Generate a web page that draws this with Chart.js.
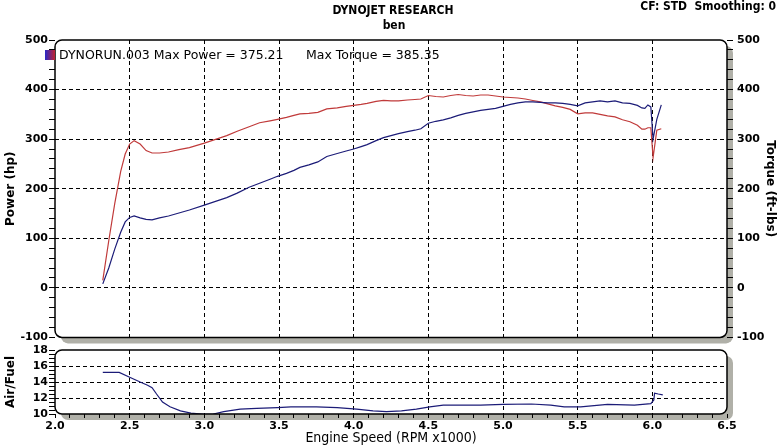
<!DOCTYPE html>
<html>
<head>
<meta charset="utf-8">
<script src="https://cdn.jsdelivr.net/npm/chart.js@4.4.0/dist/chart.umd.min.js"></script>
<style>
  body { margin: 0; background: #fff; }
  #wrap { position: relative; width: 781px; height: 448px; }
  canvas { position: absolute; left: 0; }
  #top { top: 0; }
  #bottom { top: 336px; }
</style>
</head>
<body>
<div id="wrap">
  <canvas id="top" width="781" height="348"></canvas>
  <canvas id="bottom" width="781" height="112"></canvas>
</div>
<script>
// engine speed (RPM x1000), power and torque
const rpm = [2.32, 2.36, 2.40, 2.44, 2.47, 2.50, 2.53, 2.57, 2.61, 2.65, 2.70, 2.76, 2.83, 2.90, 3.00, 3.07,
  3.15, 3.22, 3.30, 3.37, 3.44, 3.49, 3.55, 3.60, 3.64, 3.70, 3.76, 3.82, 3.89, 3.95, 4.00, 4.05, 4.09, 4.15,
  4.20, 4.25, 4.30, 4.36, 4.41, 4.45, 4.50, 4.55, 4.60, 4.65, 4.70, 4.75, 4.80, 4.85, 4.90, 4.95, 5.00, 5.05,
  5.10, 5.15, 5.20, 5.25, 5.30, 5.35, 5.40, 5.45, 5.50, 5.55, 5.60, 5.65, 5.70, 5.75, 5.80, 5.85, 5.90, 5.93,
  5.95, 5.97, 5.99, 6.005, 6.03, 6.06]
const power = [8, 40, 78, 112, 133, 142, 145, 141, 138, 137, 141, 145, 151, 157, 167, 174,
  182, 191, 203, 211, 219, 225, 231, 237, 243, 248, 254, 265, 271, 276, 280, 285, 289, 297,
  303, 307, 311, 315, 318, 321, 332, 336, 339, 343, 348, 352, 355, 358, 360, 362, 366, 370,
  373, 375, 375, 374, 373, 373, 372, 370, 367, 373, 375, 377, 375, 377, 373, 372, 368, 363,
  362, 369, 365, 300, 340, 369]
const torque = [15, 95, 170, 235, 270, 290, 297, 290, 277, 272, 272, 274, 279, 283, 292, 299,
  307, 316, 325, 333, 337, 340, 344, 348, 351, 352, 354, 361, 363, 366, 368, 370, 372, 376,
  378, 377, 377, 379, 380, 381, 388, 386, 385, 388, 390, 388, 387, 389, 389, 387, 385, 384,
  383, 381, 378, 375, 371, 367, 364, 360, 351, 353, 353, 350, 347, 345, 339, 335, 328, 320,
  320, 323, 323, 263, 318, 321]

const afrRpm = [2.32, 2.43, 2.50, 2.57, 2.62, 2.65, 2.68, 2.72, 2.77, 2.84, 2.91, 3.00, 3.06, 3.13, 3.24,
  3.35, 3.49, 3.58, 3.75, 3.89, 4.02, 4.13, 4.22, 4.32, 4.42, 4.51, 4.60, 4.85, 5.00, 5.19, 5.32, 5.41,
  5.52, 5.70, 5.88, 5.99, 6.01, 6.015, 6.04, 6.07]
const afr = [15.2, 15.2, 14.6, 14.0, 13.6, 13.3, 12.5, 11.5, 10.9, 10.4, 10.1, 9.95, 10.0, 10.3, 10.6,
  10.7, 10.8, 10.9, 10.9, 10.8, 10.6, 10.4, 10.3, 10.4, 10.6, 10.9, 11.1, 11.1, 11.2, 11.25, 11.1, 10.9,
  10.9, 11.2, 11.1, 11.3, 11.75, 12.6, 12.5, 12.4]

const xTickLabels = ['2.0', '2.5', '3.0', '3.5', '4.0', '4.5', '5.0', '5.5', '6.0', '6.5']

const runName = 'DYNORUN.003'
const maxPower = 375.21
const maxTorque = 385.35

const blue = '#1c1c78'
const red = '#c03a3a'
const tickFont = { family: 'DejaVu Sans', size: 11, weight: 'bold' }
const textFont = '"DejaVu Sans Condensed", "DejaVu Sans", sans-serif'

Chart.defaults.font.family = 'DejaVu Sans'
Chart.defaults.color = '#000'

function isStep(v, step) {
    return Math.abs(v / step - Math.round(v / step)) < 1e-6
}

const frame = {
    id: 'frame',
    beforeDraw(chart) {
        const { ctx, chartArea: a } = chart
        ctx.save()
        ctx.fillStyle = '#b0b0a8'
        ctx.beginPath()
        ctx.roundRect(a.left + 6, a.top + 6, a.right - a.left, a.bottom - a.top, 7)
        ctx.fill()
        ctx.fillStyle = '#fff'
        ctx.beginPath()
        ctx.roundRect(a.left, a.top, a.right - a.left, a.bottom - a.top, 7)
        ctx.fill()
        ctx.restore()
    },
    afterDatasetsDraw(chart) {
        const { ctx, chartArea: a } = chart
        ctx.save()
        ctx.strokeStyle = '#000'
        ctx.lineWidth = 1.5
        ctx.beginPath()
        ctx.roundRect(a.left, a.top, a.right - a.left, a.bottom - a.top, 7)
        ctx.stroke()
        ctx.restore()
    }
}

const header = {
    id: 'header',
    afterDraw(chart) {
        const ctx = chart.ctx
        ctx.save()
        ctx.fillStyle = '#000'
        ctx.textBaseline = 'middle'
        ctx.font = 'bold 12px ' + textFont
        ctx.textAlign = 'center'
        ctx.fillText('DYNOJET RESEARCH', 393, 11)
        ctx.fillText('ben', 394, 26)
        ctx.textAlign = 'right'
        ctx.fillText('CF: STD  Smoothing: 0', 776, 7)

        // legend swatch: blue fading into red
        const g = ctx.createLinearGradient(45, 0, 56, 0)
        g.addColorStop(0, '#2828c8')
        g.addColorStop(1, '#d02020')
        ctx.fillStyle = g
        ctx.fillRect(45, 50, 10, 10)
        ctx.fillStyle = '#000'
        ctx.textAlign = 'left'
        ctx.font = '12.5px "DejaVu Sans", sans-serif'
        ctx.fillText(runName + ' Max Power = ' + maxPower.toFixed(2), 59, 56)
        ctx.fillText('Max Torque = ' + maxTorque.toFixed(2), 306, 56)
        ctx.restore()
    }
}

const dashGrid = { dash: [4, 3], display: false }

new Chart(document.getElementById('top'), {
    type: 'scatter',
    data: {
        datasets: [
            {
                label: 'Power',
                data: rpm.map((r, i) => ({ x: r, y: power[i] })),
                showLine: true,
                borderColor: blue,
                borderWidth: 1.2,
                pointRadius: 0,
                yAxisID: 'y'
            },
            {
                label: 'Torque',
                data: rpm.map((r, i) => ({ x: r, y: torque[i] })),
                showLine: true,
                borderColor: red,
                borderWidth: 1.2,
                pointRadius: 0,
                yAxisID: 'y1'
            }
        ]
    },
    options: {
        responsive: false,
        animation: false,
        devicePixelRatio: 1,
        layout: { padding: { top: 40, bottom: 8, left: 0, right: 0 } },
        plugins: { legend: { display: false }, tooltip: { enabled: false } },
        scales: {
            x: {
                type: 'linear',
                min: 2,
                max: 6.5,
                ticks: { stepSize: 0.5, display: false },
                grid: {
                    drawTicks: false,
                    color: c => (c.tick.value > 2 && c.tick.value < 6.5) ? '#000' : 'transparent'
                },
                border: dashGrid,
                afterFit: s => { s.height = 0 }
            },
            y: {
                position: 'left',
                min: -100,
                max: 500,
                ticks: {
                    stepSize: 20,
                    autoSkip: false,
                    padding: 1,
                    font: tickFont,
                    callback: v => isStep(v, 100) ? v : ''
                },
                grid: {
                    tickLength: 6,
                    tickColor: '#000',
                    color: c => (isStep(c.tick.value, 100) && c.tick.value > -100 && c.tick.value < 500) ? '#000' : 'transparent'
                },
                border: dashGrid,
                title: { display: true, text: 'Power (hp)', font: { family: 'DejaVu Sans', size: 12, weight: 'bold' }, padding: { top: 4, bottom: 4 } },
                afterFit: s => { s.width = 55 }
            },
            y1: {
                position: 'right',
                min: -100,
                max: 500,
                ticks: {
                    stepSize: 20,
                    autoSkip: false,
                    padding: 4,
                    font: tickFont,
                    callback: v => isStep(v, 100) ? v : ''
                },
                grid: { drawOnChartArea: false, tickLength: 6, tickColor: '#000' },
                border: { display: false },
                title: { display: true, text: 'Torque (ft-lbs)', font: { family: 'DejaVu Sans', size: 12, weight: 'bold' }, padding: { top: 4, bottom: 4 } },
                afterFit: s => { s.width = 54 }
            }
        }
    },
    plugins: [frame, header]
})

new Chart(document.getElementById('bottom'), {
    type: 'scatter',
    data: {
        datasets: [{
            label: 'Air/Fuel',
            data: afrRpm.map((r, i) => ({ x: r, y: afr[i] })),
            showLine: true,
            borderColor: blue,
            borderWidth: 1.2,
            pointRadius: 0
        }]
    },
    options: {
        responsive: false,
        animation: false,
        devicePixelRatio: 1,
        layout: { padding: { top: 14, bottom: 0, left: 0, right: 54 } },
        plugins: { legend: { display: false }, tooltip: { enabled: false } },
        scales: {
            x: {
                type: 'linear',
                min: 2,
                max: 6.5,
                ticks: {
                    stepSize: 0.1,
                    autoSkip: false,
                    maxRotation: 0,
                    padding: 2,
                    font: tickFont,
                    callback: v => isStep(v, 0.5) ? xTickLabels[Math.round((v - 2) * 2)] : ''
                },
                grid: {
                    tickLength: 4,
                    tickColor: '#000',
                    color: c => (isStep(c.tick.value, 0.5) && c.tick.value > 2.01 && c.tick.value < 6.49) ? '#000' : 'transparent'
                },
                border: dashGrid,
                title: { display: true, text: 'Engine Speed (RPM x1000)', font: { family: 'DejaVu Sans Condensed', size: 14 }, padding: { top: 0, bottom: 1 } },
                afterFit: s => { s.height = 34 }
            },
            y: {
                position: 'left',
                min: 10,
                max: 18,
                ticks: {
                    stepSize: 0.5,
                    autoSkip: false,
                    padding: 1,
                    font: tickFont,
                    callback: v => isStep(v, 2) ? v : ''
                },
                grid: {
                    tickLength: 6,
                    tickColor: '#000',
                    color: c => (isStep(c.tick.value, 2) && c.tick.value > 10 && c.tick.value < 18) ? '#000' : 'transparent'
                },
                border: dashGrid,
                title: { display: true, text: 'Air/Fuel', font: { family: 'DejaVu Sans', size: 12, weight: 'bold' }, padding: { top: 4, bottom: 4 } },
                afterFit: s => { s.width = 55 }
            }
        }
    },
    plugins: [frame]
})
</script>
</body>
</html>
